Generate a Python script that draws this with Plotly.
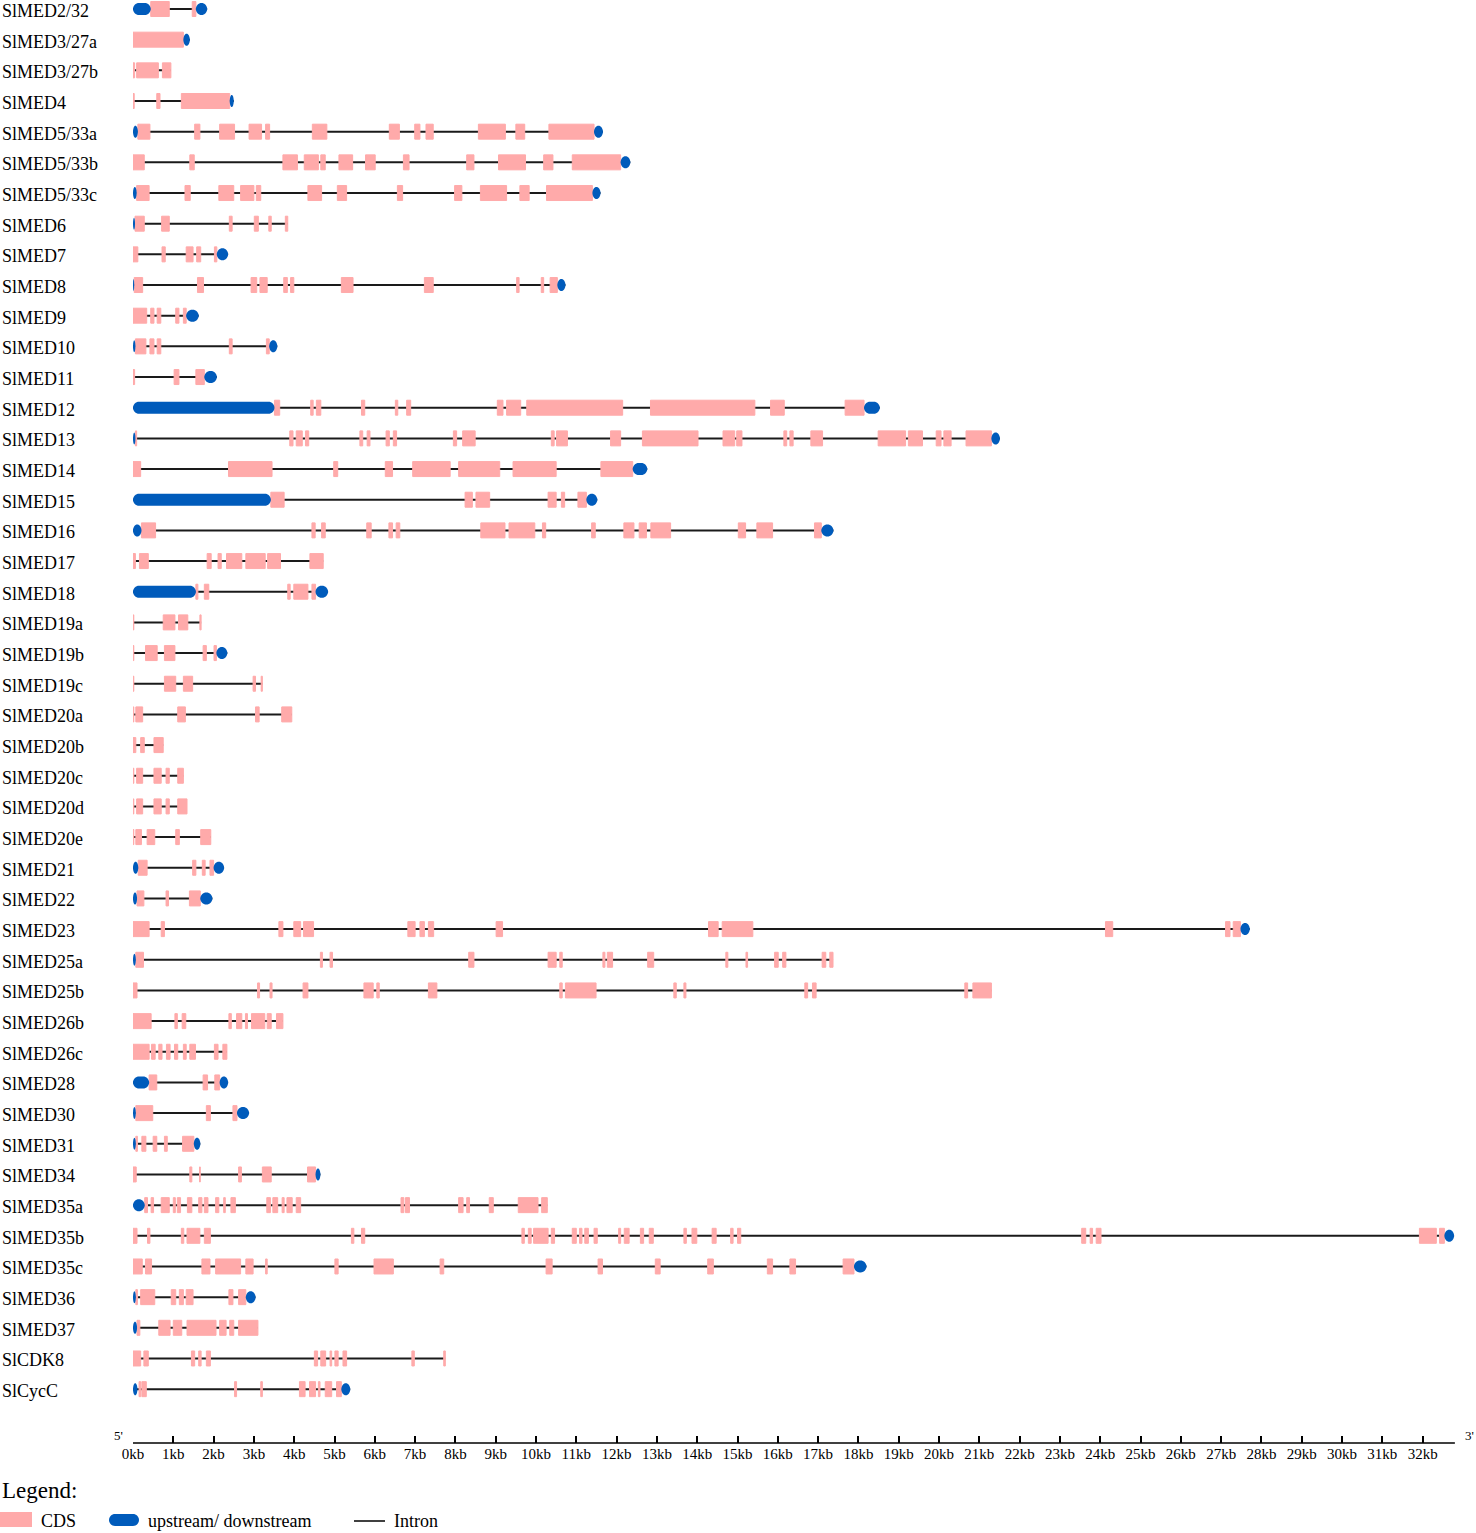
import plotly.graph_objects as go

# gene names, top to bottom
genes = ["SlMED2/32", "SlMED3/27a", "SlMED3/27b", "SlMED4", "SlMED5/33a", "SlMED5/33b",
         "SlMED5/33c", "SlMED6", "SlMED7", "SlMED8", "SlMED9", "SlMED10", "SlMED11",
         "SlMED12", "SlMED13", "SlMED14", "SlMED15", "SlMED16", "SlMED17", "SlMED18",
         "SlMED19a", "SlMED19b", "SlMED19c", "SlMED20a", "SlMED20b", "SlMED20c",
         "SlMED20d", "SlMED20e", "SlMED21", "SlMED22", "SlMED23", "SlMED25a", "SlMED25b",
         "SlMED26b", "SlMED26c", "SlMED28", "SlMED30", "SlMED31", "SlMED34", "SlMED35a",
         "SlMED35b", "SlMED35c", "SlMED36", "SlMED37", "SlCDK8", "SlCycC"]

# CDS segments (start, end) in kb
cds_kb = [
    [(0.44, 0.9), (1.47, 1.56)],
    [(0, 1.25)],
    [(0, 0.04), (0.09, 0.63), (0.73, 0.94)],
    [(0, 0.03), (0.59, 0.67), (1.2, 2.4)],
    [(0.12, 0.42), (1.53, 1.66), (2.15, 2.52), (2.88, 3.19), (3.29, 3.39), (4.45, 4.81),
     (6.36, 6.61), (6.99, 7.12), (7.27, 7.45), (8.57, 9.24), (9.5, 9.72), (10.32, 11.44)],
    [(0, 0.28), (1.41, 1.52), (3.72, 4.08), (4.25, 4.6), (4.66, 4.77), (5.11, 5.45),
     (5.77, 6.01), (6.71, 6.85), (8.28, 8.46), (9.07, 9.74), (10.19, 10.42), (10.9, 12.1)],
    [(0.09, 0.4), (1.29, 1.42), (2.13, 2.5), (2.67, 3.0), (3.06, 3.17), (4.34, 4.68),
     (5.07, 5.3), (6.56, 6.69), (7.98, 8.16), (8.62, 9.27), (9.6, 9.83), (10.26, 11.4)],
    [(0.05, 0.28), (0.71, 0.9), (2.39, 2.46), (3.01, 3.11), (3.37, 3.43), (3.78, 3.84)],
    [(0, 0.12), (0.72, 0.8), (1.32, 1.49), (1.58, 1.68), (2.02, 2.08)],
    [(0.03, 0.24), (1.6, 1.75), (2.93, 3.07), (3.15, 3.33), (3.74, 3.83), (3.91, 3.99),
     (5.17, 5.46), (7.23, 7.45), (9.52, 9.58), (10.13, 10.19), (10.35, 10.53)],
    [(0, 0.34), (0.44, 0.52), (0.6, 0.69), (1.06, 1.14), (1.25, 1.32)],
    [(0.06, 0.32), (0.42, 0.52), (0.6, 0.69), (2.39, 2.46), (3.31, 3.38)],
    [(0, 0.04), (1.02, 1.14), (1.56, 1.77)],
    [(3.51, 3.64), (4.41, 4.47), (4.55, 4.66), (5.67, 5.75), (6.51, 6.57), (6.79, 6.89),
     (9.04, 9.18), (9.27, 9.62), (9.77, 12.15), (12.84, 15.43), (15.82, 16.16), (17.67, 18.14)],
    [(0.06, 0.09), (3.89, 3.97), (4.05, 4.2), (4.28, 4.36), (5.63, 5.7), (5.81, 5.88),
     (6.28, 6.36), (6.46, 6.54), (7.95, 8.03), (8.18, 8.49), (10.38, 10.45), (10.51, 10.78),
     (11.85, 12.1), (12.64, 14.02), (14.64, 14.93), (14.98, 15.11), (16.15, 16.22),
     (16.3, 16.38), (16.82, 17.11), (18.49, 19.17), (19.24, 19.59), (19.93, 20.05),
     (20.12, 20.3), (20.67, 21.3)],
    [(0, 0.19), (2.37, 3.45), (4.98, 5.08), (6.26, 6.44), (6.94, 7.87), (8.08, 9.1),
     (9.43, 10.5), (11.61, 12.4)],
    [(3.42, 3.75), (8.24, 8.42), (8.51, 8.85), (10.3, 10.5), (10.63, 10.71), (11.04, 11.25)],
    [(0.21, 0.56), (4.44, 4.52), (4.68, 4.77), (5.8, 5.91), (6.35, 6.44), (6.53, 6.62),
     (8.63, 9.23), (9.33, 9.97), (10.16, 10.24), (11.38, 11.47), (12.18, 12.43),
     (12.56, 12.74), (12.85, 13.34), (15.02, 15.2), (15.48, 15.87), (16.91, 17.08)],
    [(0, 0.06), (0.16, 0.38), (1.84, 1.94), (2.11, 2.19), (2.32, 2.7), (2.8, 3.28),
     (3.34, 3.66), (4.39, 4.72)],
    [(1.56, 1.61), (1.77, 1.88), (3.84, 3.9), (3.99, 4.34), (4.44, 4.53)],
    [(0, 0.02), (0.75, 1.04), (1.13, 1.36), (1.66, 1.69)],
    [(0, 0.02), (0.31, 0.6), (0.78, 1.04), (1.74, 1.82), (2.01, 2.07)],
    [(0, 0.02), (0.78, 1.06), (1.25, 1.48), (2.98, 3.04), (3.18, 3.21)],
    [(0, 0.02), (0.07, 0.24), (1.11, 1.3), (3.04, 3.13), (3.69, 3.94)],
    [(0, 0.07), (0.19, 0.28), (0.52, 0.75)],
    [(0, 0.02), (0.09, 0.24), (0.52, 0.7), (0.82, 0.9), (1.11, 1.25)],
    [(0, 0.02), (0.09, 0.24), (0.52, 0.7), (0.82, 0.9), (1.11, 1.34)],
    [(0, 0.02), (0.07, 0.21), (0.35, 0.54), (1.06, 1.15), (1.68, 1.93)],
    [(0.13, 0.35), (1.48, 1.56), (1.72, 1.79), (1.91, 2.0)],
    [(0.1, 0.27), (0.82, 0.88), (1.4, 1.67)],
    [(0, 0.4), (0.7, 0.78), (3.62, 3.72), (3.99, 4.16), (4.23, 4.48), (6.82, 7.0),
     (7.12, 7.23), (7.33, 7.46), (9.01, 9.17), (14.28, 14.52), (14.62, 15.38),
     (24.13, 24.31), (27.11, 27.22), (27.3, 27.48)],
    [(0.07, 0.26), (4.65, 4.7), (4.89, 4.95), (8.33, 8.46), (10.3, 10.5), (10.59, 10.65),
     (11.66, 11.71), (11.77, 11.9), (12.77, 12.92), (14.71, 14.76), (15.21, 15.25),
     (15.92, 16.01), (16.12, 16.2), (17.1, 17.19), (17.29, 17.37)],
    [(0, 0.1), (3.09, 3.14), (3.4, 3.45), (4.22, 4.34), (5.73, 5.96), (6.05, 6.11),
     (7.33, 7.54), (10.59, 10.65), (10.73, 11.49), (13.42, 13.48), (13.67, 13.72),
     (16.67, 16.74), (16.86, 16.95), (20.64, 20.71), (20.84, 21.3)],
    [(0, 0.45), (1.04, 1.1), (1.22, 1.31), (2.38, 2.44), (2.57, 2.7), (2.79, 2.84),
     (2.94, 3.27), (3.33, 3.43), (3.56, 3.72)],
    [(0, 0.4), (0.46, 0.55), (0.64, 0.72), (0.83, 0.92), (1.03, 1.11), (1.25, 1.32),
     (1.41, 1.55), (2.02, 2.11), (2.23, 2.33)],
    [(0.4, 0.59), (1.74, 1.85), (2.03, 2.15)],
    [(0.07, 0.49), (1.82, 1.92), (2.48, 2.58)],
    [(0.07, 0.11), (0.22, 0.32), (0.5, 0.59), (0.78, 0.85), (1.23, 1.51)],
    [(0, 0.08), (1.41, 1.46), (1.65, 1.67), (2.62, 2.69), (3.21, 3.43), (4.33, 4.53)],
    [(0.29, 0.36), (0.45, 0.51), (0.7, 0.9), (1.0, 1.05), (1.1, 1.18), (1.35, 1.46),
     (1.63, 1.71), (1.77, 1.86), (2.05, 2.13), (2.25, 2.29), (2.43, 2.54), (3.32, 3.41),
     (3.47, 3.59), (3.7, 3.75), (3.82, 3.95), (4.05, 4.16), (6.65, 6.72), (6.76, 6.86),
     (8.08, 8.19), (8.28, 8.35), (8.84, 8.94), (9.56, 10.05), (10.14, 10.28)],
    [(0, 0.1), (0.36, 0.42), (1.2, 1.26), (1.34, 1.66), (1.77, 1.92), (5.42, 5.48),
     (5.67, 5.75), (9.65, 9.71), (9.81, 9.88), (9.94, 10.3), (10.38, 10.46), (10.9, 11.0),
     (11.08, 11.14), (11.21, 11.3), (11.44, 11.52), (12.05, 12.1), (12.19, 12.31),
     (12.59, 12.67), (12.81, 12.91), (13.67, 13.73), (13.87, 13.99), (14.37, 14.47),
     (14.83, 14.89), (15.0, 15.08), (23.54, 23.64), (23.75, 23.81), (23.9, 24.02),
     (31.92, 32.34), (32.42, 32.54)],
    [(0, 0.23), (0.31, 0.46), (1.71, 1.91), (2.05, 2.67), (2.8, 2.98), (3.29, 3.33),
     (5.01, 5.09), (5.98, 6.46), (7.62, 7.71), (10.25, 10.4), (11.54, 11.65), (12.96, 13.08),
     (14.26, 14.4), (15.74, 15.87), (16.3, 16.44), (17.62, 17.89)],
    [(0.07, 0.11), (0.19, 0.54), (0.95, 1.06), (1.15, 1.25), (1.32, 1.49), (2.38, 2.48),
     (2.62, 2.8)],
    [(0.1, 0.17), (0.64, 0.92), (1.0, 1.21), (1.34, 2.06), (2.15, 2.31), (2.4, 2.5),
     (2.62, 3.1)],
    [(0, 0.19), (0.27, 0.38), (1.45, 1.53), (1.63, 1.69), (1.82, 1.92), (4.5, 4.58),
     (4.66, 4.78), (4.89, 4.93), (5.01, 5.09), (5.21, 5.3), (6.92, 6.98), (7.71, 7.75)],
    [(0.15, 0.19), (0.22, 0.33), (2.52, 2.57), (3.17, 3.21), (4.13, 4.27), (4.38, 4.53),
     (4.6, 4.64), (4.77, 4.93), (5.05, 5.17)],
]

# upstream / downstream segments (start, end) in kb
utr_kb = [
    [(0, 0.44), (1.56, 1.84)], [(1.25, 1.41)], [], [(2.4, 2.5)],
    [(0, 0.12), (11.44, 11.66)], [(12.1, 12.34)], [(0, 0.09), (11.4, 11.6)], [(0, 0.05)],
    [(2.08, 2.36)], [(0, 0.03), (10.53, 10.73)], [(1.32, 1.63)], [(0, 0.06), (3.38, 3.58)],
    [(1.77, 2.08)], [(0, 3.51), (18.14, 18.53)], [(0, 0.06), (21.3, 21.51)], [(12.4, 12.76)],
    [(0, 3.42), (11.25, 11.52)], [(0, 0.21), (17.08, 17.38)], [], [(0, 1.56), (4.53, 4.84)],
    [], [(2.07, 2.34)], [], [], [], [], [], [],
    [(0, 0.13), (2.0, 2.26)], [(0, 0.1), (1.67, 1.97)], [(27.48, 27.71)], [(0, 0.07)], [],
    [], [], [(0, 0.4), (2.15, 2.36)], [(0, 0.07), (2.58, 2.88)], [(0, 0.07), (1.51, 1.67)],
    [(4.53, 4.65)], [(0, 0.29)], [(32.54, 32.78)], [(17.89, 18.2)], [(0, 0.07), (2.8, 3.04)],
    [(0, 0.1)], [], [(0, 0.11), (5.17, 5.39)],
]

tick_kb = list(range(0, 33))
tick_text = [f"{k}kb" for k in tick_kb]

PINK = "#ffaaaa"
BLUE = "#005bbb"
FONT = "Liberation Serif"

W, H = 1476, 1533
L, R, T, B = 133, 5, 0, 90
PW, PH = W - L - R, H - T - B
x_max = 33.2
row_px = 30.67
y_top = -9 / row_px
y_bot = y_top + PH / row_px


def px_x(p):
    return (p - L) / PW


def px_y(p):
    return (PH - p) / PH


def pill_path(a, b, yc, hh, rx):
    r = min(rx, (b - a) / 2)
    k = 0.5523
    y0, y1 = yc - hh, yc + hh
    return (f"M{a + r},{y0} L{b - r},{y0} "
            f"C{b - r + k * r},{y0} {b},{yc - k * hh} {b},{yc} "
            f"C{b},{yc + k * hh} {b - r + k * r},{y1} {b - r},{y1} "
            f"L{a + r},{y1} "
            f"C{a + r - k * r},{y1} {a},{yc + k * hh} {a},{yc} "
            f"C{a},{yc - k * hh} {a + r - k * r},{y0} {a + r},{y0} Z")


rows = list(range(len(genes)))
gene_start = [min(s for s, e in c + u) for c, u in zip(cds_kb, utr_kb)]
gene_end = [max(e for s, e in c + u) for c, u in zip(cds_kb, utr_kb)]

fig = go.Figure()

# intron line across the whole gene
fig.add_trace(go.Bar(
    y=rows, base=gene_start, x=[e - s for s, e in zip(gene_start, gene_end)],
    orientation='h', width=2 / row_px, marker=dict(color='#1a1a1a', line=dict(width=0)),
    hoverinfo='skip', showlegend=False))

# CDS blocks
cy, cb, cx = [], [], []
for i, segs in enumerate(cds_kb):
    for s, e in segs:
        cy.append(i)
        cb.append(s)
        cx.append(e - s)
fig.add_trace(go.Bar(
    y=cy, base=cb, x=cx, orientation='h', width=15 / row_px,
    marker=dict(color=PINK, line=dict(color=PINK, width=1)),
    hoverinfo='skip', showlegend=False))

shapes = []
rx_kb = 6 * x_max / PW
hh_row = 6 / row_px
for i, segs in enumerate(utr_kb):
    for s, e in segs:
        shapes.append(dict(type='path', xref='x', yref='y', layer='above',
                           path=pill_path(s, e, i, hh_row, rx_kb),
                           fillcolor=BLUE, line=dict(width=0)))

# axis line
shapes.append(dict(type='line', xref='paper', yref='paper', x0=0, x1=32.8 / x_max,
                   y0=0, y1=0, line=dict(color='black', width=1.5)))

# legend swatches
shapes.append(dict(type='rect', xref='paper', yref='paper', x0=px_x(0), x1=px_x(32),
                   y0=px_y(1527), y1=px_y(1512), fillcolor=PINK, line=dict(width=0)))
lx0, lx1, ly = px_x(109), px_x(139), px_y(1520)
shapes.append(dict(type='path', xref='paper', yref='paper',
                   path=pill_path(lx0, lx1, ly, 6 / PH, 6 / PW),
                   fillcolor=BLUE, line=dict(width=0)))
shapes.append(dict(type='line', xref='paper', yref='paper', x0=px_x(354), x1=px_x(385),
                   y0=px_y(1521), y1=px_y(1521), line=dict(color='black', width=1.5)))

annotations = []
for i, name in enumerate(genes):
    annotations.append(dict(xref='paper', yref='y', x=px_x(0), y=i, text=name,
                            xanchor='left', yanchor='middle', yshift=-2, showarrow=False,
                            font=dict(family=FONT, size=18, color='black')))

for txt, xp, yp, size in [("5'", 112, 1435, 13), ("3'", 1463, 1435, 13),
                          ("Legend:", 0, 1490, 23), ("CDS", 39, 1521, 18),
                          ("upstream/ downstream", 146, 1521, 18), ("Intron", 392, 1521, 18)]:
    annotations.append(dict(xref='paper', yref='paper', x=px_x(xp), y=px_y(yp), text=txt,
                            xanchor='left', yanchor='middle', showarrow=False,
                            font=dict(family=FONT, size=size, color='black')))

fig.update_layout(
    width=W, height=H,
    margin=dict(l=L, r=R, t=T, b=B, pad=0),
    paper_bgcolor='white', plot_bgcolor='white',
    barmode='overlay',
    shapes=shapes, annotations=annotations,
    xaxis=dict(range=[0, x_max], tickvals=tick_kb, ticktext=tick_text,
               ticks='inside', ticklen=7, tickwidth=1.5, tickcolor='black',
               showgrid=False, zeroline=False, showline=False,
               tickfont=dict(family=FONT, size=15, color='black')),
    yaxis=dict(range=[y_bot, y_top], visible=False, showgrid=False, zeroline=False),
)

fig.write_html("out.html", config={'displayModeBar': False},
               post_script="document.body.style.margin='0px';"
                           "document.body.style.overflow='hidden';")
